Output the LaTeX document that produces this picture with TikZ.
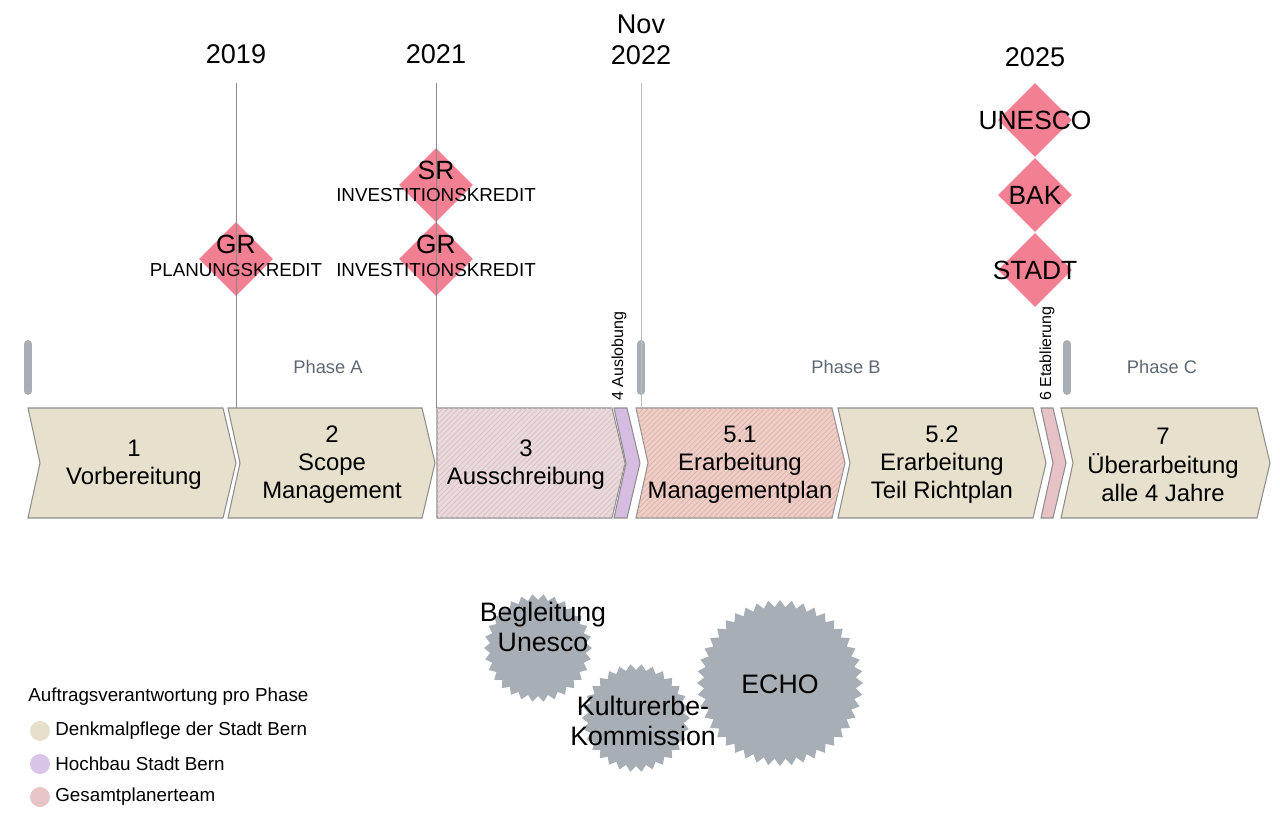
\documentclass[tikz,border=0pt]{standalone}
\usepackage{fontspec}
\setmainfont{Liberation Sans}
\usetikzlibrary{shapes.geometric,patterns}
\definecolor{beige}{HTML}{E7E0CD}
\definecolor{chevline}{HTML}{8E8E8E}
\definecolor{pinkA}{HTML}{EADADC}
\definecolor{pinkAline}{HTML}{D8C1C5}
\definecolor{lila}{HTML}{D5BCE0}
\definecolor{pinkB}{HTML}{EFCEC7}
\definecolor{pinkBline}{HTML}{DDB3AB}
\definecolor{pinkC}{HTML}{E6C2C6}
\definecolor{diared}{HTML}{F27F92}
\definecolor{phasegray}{HTML}{5E6873}
\definecolor{bargray}{HTML}{A8AEB5}
\definecolor{linegray}{HTML}{8A8A8A}
\definecolor{geargray}{HTML}{A8AEB5}
\definecolor{legbeige}{HTML}{E6DFCB}
\definecolor{leglila}{HTML}{D8C4E4}
\definecolor{legpink}{HTML}{E8C5C7}

\begin{document}
\begin{tikzpicture}[x=0.02cm, y=-0.02cm, every node/.style={inner sep=0pt},
  chev/.style={draw=chevline, line width=0.6pt},
  chevtext/.style={align=center, font=\fontsize{13.6}{16}\selectfont},
  yeartext/.style={align=center, font=\fontsize{15.4}{17.6}\selectfont},
  dia/.style={shape=diamond, fill=diared, minimum width=1.48cm, minimum height=1.48cm},
  diatext/.style={font=\fontsize{15}{17}\selectfont},
  diasub/.style={font=\fontsize{10.7}{12}\selectfont},
  phase/.style={text=phasegray, font=\fontsize{10.4}{12}\selectfont},
  rot/.style={rotate=90, anchor=west, font=\fontsize{9.1}{11}\selectfont},
  phasebar/.style={draw=bargray, line width=4.5pt, line cap=round},
  tline/.style={draw=linegray, line width=0.5pt},
  gear/.style={fill=geargray},
  geartext/.style={align=center, font=\fontsize{15.2}{17}\selectfont},
  legtext/.style={anchor=west, font=\fontsize{10.7}{12}\selectfont},
  legdot/.style={circle, minimum size=0.4cm}]
\useasboundingbox (0,0) rectangle (1280,820);

% Phasen
\draw[chev, fill=beige] (28,408) -- (223,408) -- (236,463) -- (223,518) -- (28,518) -- (40,463) -- cycle; \node[chevtext] (c1) at (134,465) {1\\Vorbereitung};
\draw[chev, fill=beige] (228,408) -- (422,408) -- (435,463) -- (422,518) -- (228,518) -- (240,463) -- cycle; \node[chevtext] (c2) at (332,465) {2\\Scope\\Management};
\draw[chev, fill=pinkA, postaction={pattern=north east lines, pattern color=pinkAline}] (437,408) -- (612,408) -- (625,463) -- (612,518) -- (437,518) -- cycle; \node[chevtext] (c3) at (526,465) {3\\Ausschreibung};
\draw[chev, fill=lila] (614,408) -- (627,408) -- (640,463) -- (627,518) -- (614,518) -- (626,463) -- cycle;
\draw[chev, fill=pinkB, postaction={pattern=north east lines, pattern color=pinkBline}] (636,408) -- (832,408) -- (845,463) -- (832,518) -- (636,518) -- (648,463) -- cycle; \node[chevtext] (c51) at (740,465) {5.1\\Erarbeitung\\Managementplan};
\draw[chev, fill=beige] (838,408) -- (1033,408) -- (1046,463) -- (1033,518) -- (838,518) -- (850,463) -- cycle; \node[chevtext] (c52) at (942,465) {5.2\\Erarbeitung\\Teil Richtplan};
\draw[chev, fill=pinkC] (1041,408) -- (1053,408) -- (1066,463) -- (1053,518) -- (1041,518) -- (1053,463) -- cycle;
\draw[chev, fill=beige] (1061,408) -- (1257,408) -- (1270,463) -- (1257,518) -- (1061,518) -- (1073,463) -- cycle; \node[chevtext] (c7) at (1163,465) {7\\Überarbeitung\\alle 4 Jahre};

\node[rot] (ausl) at (619,401) {4 Auslobung};
\node[rot] (etab) at (1047,401) {6 Etablierung};

\draw[phasebar] (28,344) -- (28,391); \node[phase] (pa) at (328,367) {Phase A};
\draw[phasebar] (641,344) -- (641,391); \node[phase] (pb) at (846,367) {Phase B};
\draw[phasebar] (1067,344) -- (1067,391); \node[phase] (pc) at (1162,367) {Phase C};

% Beschluesse
\node[dia] (dgr1) at (236,259) {};
\node[dia] (dsr) at (436,185) {};
\node[dia] (dgr2) at (436,259) {};
\node[dia] (dun) at (1035,120) {};
\node[dia] (dbak) at (1035,195) {};
\node[dia] (dst) at (1035,270) {};

\node[yeartext] (y19) at (236,54) {2019};
\node[yeartext] (y21) at (436,54) {2021};
\node[yeartext] (y22) at (641,40) {Nov\\2022};
\node[yeartext] (y25) at (1035,57) {2025};
\draw[tline] (236,83) -- (236,408);
\draw[tline] (436,83) -- (436,408);
\draw[tline, draw=linegray!55] (641,83) -- (641,408);

\node[diatext] (tgr1) at (236,244) {GR}; \node[diasub] (tpk) at (236,270) {PLANUNGSKREDIT};
\node[diatext] (tsr) at (436,170) {SR}; \node[diasub] (tik1) at (436,195) {INVESTITIONSKREDIT};
\node[diatext] (tgr2) at (436,244) {GR}; \node[diasub] (tik2) at (436,270) {INVESTITIONSKREDIT};
\node[diatext] (tun) at (1035,120) {UNESCO};
\node[diatext] (tbak) at (1035,195) {BAK};
\node[diatext] (tst) at (1035,270) {STADT};

% Gremien
\fill[gear, shift={(538,648)}] (0:54) \foreach \k in {1,...,59}{ -- (6*\k:{54-6*mod(\k,2)}) } -- cycle;
\fill[gear, shift={(636,718)}] (0:54) \foreach \k in {1,...,59}{ -- (6*\k:{54-6*mod(\k,2)}) } -- cycle;
\fill[gear, shift={(780,683)}] (0:83) \foreach \k in {1,...,87}{ -- (4.0909*\k:{83-7*mod(\k,2)}) } -- cycle;
\node[geartext] (begl) at (543,627) {Begleitung\\Unesco};
\node[geartext] (kek) at (643,721) {Kulturerbe-\\Kommission};
\node[geartext] (echo) at (780,684) {ECHO};

% Legende
\node[legtext] (leg) at (28,697) {Auftragsverantwortung pro Phase};
\node[legdot, fill=legbeige] (l1) at (40,731) {}; \node[legtext] (l1t) at (55,731) {Denkmalpflege der Stadt Bern};
\node[legdot, fill=leglila] (l2) at (40,764) {}; \node[legtext] (l2t) at (55,764) {Hochbau Stadt Bern};
\node[legdot, fill=legpink] (l3) at (40,797) {}; \node[legtext] (l3t) at (55,797) {Gesamtplanerteam};
\end{tikzpicture}
\end{document}
